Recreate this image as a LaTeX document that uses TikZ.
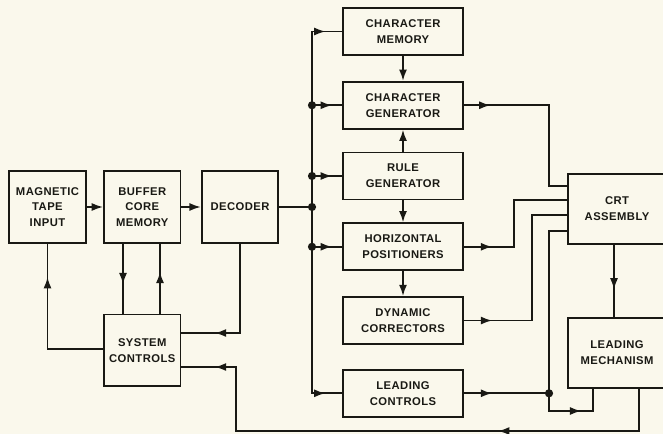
\documentclass[tikz,border=0pt]{standalone}
\usepackage{fontspec}
\newfontfamily\lblfont[LetterSpace=4]{Liberation Sans Bold}
\usetikzlibrary{arrows.meta, positioning, decorations.markings}
\definecolor{paper}{RGB}{250,248,236}
\definecolor{ink}{RGB}{25,25,20}
\tikzset{
  block/.style={draw=ink, fill=paper, align=center, inner sep=1pt,
    font=\lblfont\fontsize{9.6}{13.5}\selectfont},
  sidebox/.style={block, minimum width=2.3cm, minimum height=2.15cm},
  midbox/.style={block, minimum width=3.6cm, minimum height=1.41cm},
  crtbox/.style={block, minimum width=2.94cm, minimum height=2.1cm},
  arrowat/.style={postaction={decorate, decoration={markings,
    mark=at position #1 with {\arrow{Latex[length=3.4mm,width=2.4mm]}}}}},
  arrowback/.style={postaction={decorate, decoration={markings,
    mark=at position #1 with {\arrowreversed{Latex[length=3.4mm,width=2.4mm]}}}}},
  junction/.style={circle, fill=ink, inner sep=0pt, minimum size=7pt},
}
\begin{document}
\begin{tikzpicture}[>={Latex[length=3.4mm,width=2.4mm]}, line width=1.5pt, color=ink]
  \useasboundingbox (0,0) rectangle (19.89,-13.02);
  \fill[paper] (0,0) rectangle (19.89,-13.02);
  % left row
  \node[sidebox] (tape) at (1.425,-6.21) {MAGNETIC\\TAPE\\INPUT};
  \node[sidebox, right=0.49cm of tape] (buffer) {BUFFER\\CORE\\MEMORY};
  \node[sidebox, right=0.58cm of buffer] (decoder) {DECODER};
  \node[sidebox, below=2.1cm of buffer] (sysctl) {SYSTEM\\CONTROLS};
  % middle column
  \node[midbox] (charmem) at (12.09,-0.945) {CHARACTER\\MEMORY};
  \node[midbox, below=0.75cm of charmem] (chargen) {CHARACTER\\GENERATOR};
  \node[midbox, below=0.66cm of chargen] (rulegen) {RULE\\GENERATOR};
  \node[midbox, below=0.66cm of rulegen] (horizpos) {HORIZONTAL\\POSITIONERS};
  \node[midbox, below=0.75cm of horizpos] (dyncorr) {DYNAMIC\\CORRECTORS};
  \node[midbox, below=0.72cm of dyncorr] (leadctl) {LEADING\\CONTROLS};
  % right column
  \node[crtbox] (crt) at (18.51,-6.27) {CRT\\ASSEMBLY};
  \node[crtbox, below=2.16cm of crt] (leadmech) {LEADING\\MECHANISM};
  % bus and junctions
  \coordinate (bus) at (9.36,0);
  \node[junction] (jcg) at (chargen.west -| bus) {};
  \node[junction] (jrg) at (rulegen.west -| bus) {};
  \node[junction] (jdec) at (decoder.east -| bus) {};
  \node[junction] (jhp) at (horizpos.west -| bus) {};
  \node[junction] (jld) at (leadctl.east -| 16.47,0) {};
  \draw[->] (tape) -- (buffer);
  \draw[->] (buffer) -- (decoder);
  \draw (decoder.east) -- (jdec.center);
  \draw[arrowat=-0.5cm, arrowback=0.5cm] (leadctl.west) -- (leadctl.west -| bus)
    -- (charmem.west -| bus) -- (charmem.west);
  \draw[arrowat=0.6cm] (jcg.center) -- (chargen.west);
  \draw[arrowat=0.6cm] (jrg.center) -- (rulegen.west);
  \draw[arrowat=0.6cm] (jhp.center) -- (horizpos.west);
  \draw[->] (charmem) -- (chargen);
  \draw[->] (rulegen) -- (chargen);
  \draw[->] (rulegen) -- (horizpos);
  \draw[->] (horizpos) -- (dyncorr);
  % into the crt
  \draw[arrowat=0.8cm] (chargen.east) -| (16.47,-5.58) -- (crt.west |- 0,-5.58);
  \draw[arrowat=0.85cm] (horizpos.east) -| (15.42,-6.0) -- (crt.west |- 0,-6.0);
  \draw[arrowat=0.85cm] (dyncorr.east) -| (15.96,-6.45) -- (crt.west |- 0,-6.45);
  \draw[arrowat=0.85cm] (leadctl.east) -- (jld.center);
  \draw (jld.center) |- (crt.west |- 0,-6.93);
  \draw[arrowat=1.5cm] (jld.center) |- (17.79,-12.33) -- (leadmech.south -| 17.79,0);
  \draw[arrowat=0.62] (crt.south -| 18.42,0) -- (leadmech.north -| 18.42,0);
  % back to system controls
  \draw[arrowat=5.5cm, arrowat=-1.0cm] (leadmech.south -| 19.17,0) |- (7.08,-12.93)
    |- (sysctl.east |- 0,-11.01);
  \draw[arrowat=-1.0cm] (decoder.south) |- (sysctl.east |- 0,-9.99);
  \draw[arrowat=0.58] (buffer.south -| 3.69,0) -- (sysctl.north -| 3.69,0);
  \draw[arrowat=0.6] (sysctl.north -| 4.8,0) -- (buffer.south -| 4.8,0);
  \draw[arrowat=-1.0cm] (sysctl.west |- 0,-10.47) -| (tape.south);
\end{tikzpicture}
\end{document}
